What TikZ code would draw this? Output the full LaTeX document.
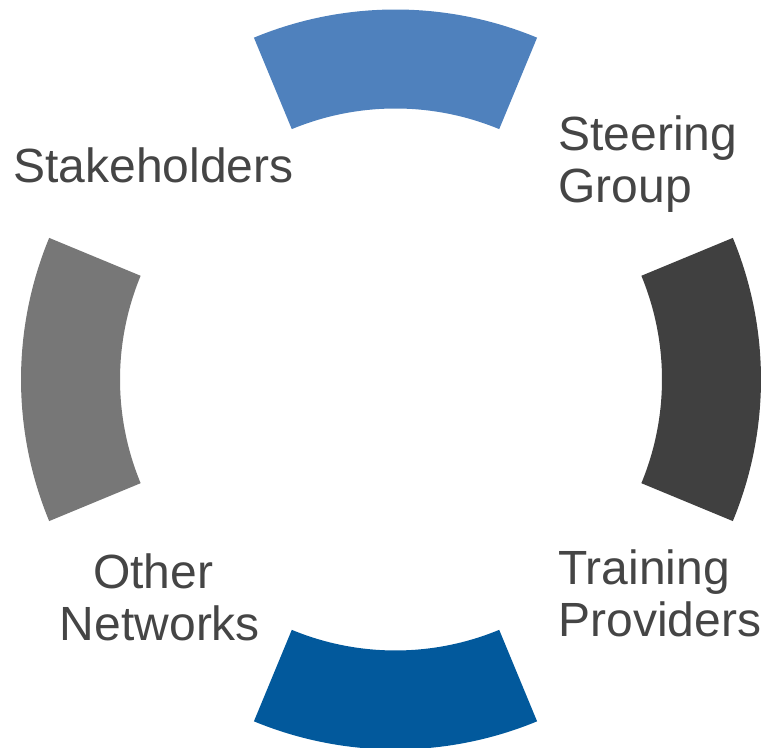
\documentclass[tikz,border=0pt]{standalone}
\usepackage{fontspec}
\setmainfont{Liberation Sans}
\usetikzlibrary{positioning}

\definecolor{segtop}{HTML}{4F81BD}
\definecolor{segright}{HTML}{404040}
\definecolor{segbottom}{HTML}{02599C}
\definecolor{segleft}{HTML}{777777}
\definecolor{ringink}{HTML}{454545}

\begin{document}
\begin{tikzpicture}[x=0.5pt,y=0.5pt]
  \tikzset{ringtext/.style= {inner sep=0pt, text=ringink,
      font=\fontsize{24}{26}\selectfont}}
  \useasboundingbox (0,0) rectangle (761,748);
  \coordinate (tb) at (395.5,368.5);
  \coordinate (lr) at (391,368.5);

  % ring segments
  \foreach \ang/\col/\c in {90/segtop/tb, 0/segright/lr, 270/segbottom/tb, 180/segleft/lr}
    \fill[\col] ([shift={(\ang-22.5:370)}]\c) arc[start angle=\ang-22.5, end angle=\ang+22.5, radius=370]
      -- ([shift={(\ang+22.5:271)}]\c) arc[start angle=\ang+22.5, end angle=\ang-22.5, radius=271] -- cycle;

  \node[ringtext, anchor=base west] (stake) at (13,565) {Stakeholders};
  \node[ringtext, anchor=north west, align=left] (steer) at (558,633) {Steering\\Group};
  \node[ringtext, anchor=north west, align=left] (train) at (558,199) {Training\\Providers};
  \node[ringtext, anchor=north, align=center] (other) at (160,195) {Other\rule{0.28em}{0pt}\\Networks};
\end{tikzpicture}
\end{document}
